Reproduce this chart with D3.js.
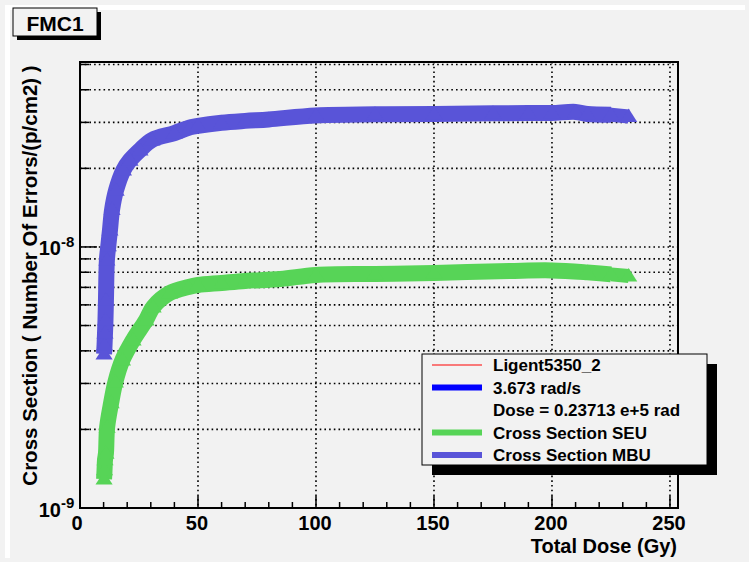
<!DOCTYPE html>
<html><head><meta charset="utf-8">
<script src="https://cdn.jsdelivr.net/npm/d3@7"></script>
<style>
body{margin:0;background:#f2f2f2;}
svg text{font-family:"Liberation Sans",Arial,Helvetica,sans-serif;font-weight:bold;fill:#000;}
</style>
</head><body>
<svg id="c" width="749" height="562"></svg>
<script>
// ---- data ----
const mbuDose   = [10.2,10.4,10.6,10.8,11.0,11.4,12.0,12.7,13.6,15.3,18.4,21.2,25.4,30.5,40,46.6,50,60,70,80,100,125,150,175,190,200,210,215,225,232.5];
const mbuValues = [3.89e-9,4.21e-9,4.68e-9,5.25e-9,6.26e-9,8.92e-9,1.01e-8,1.16e-8,1.39e-8,1.65e-8,1.97e-8,2.15e-8,2.35e-8,2.57e-8,2.73e-8,2.87e-8,2.91e-8,2.99e-8,3.04e-8,3.08e-8,3.19e-8,3.22e-8,3.23e-8,3.25e-8,3.26e-8,3.26e-8,3.29e-8,3.23e-8,3.21e-8,3.16e-8];
const seuDose   = [10.2,10.4,10.6,11.0,11.5,13.2,15,18,22.5,28,31,38,46,50,60,70,85,100,125,150,182,200,215,225,232.5];
const seuValues = [1.29e-9,1.40e-9,1.53e-9,1.62e-9,2.04e-9,2.53e-9,3.04e-9,3.69e-9,4.40e-9,5.25e-9,5.89e-9,6.66e-9,7.03e-9,7.15e-9,7.28e-9,7.41e-9,7.54e-9,7.81e-9,7.88e-9,7.95e-9,8.09e-9,8.13e-9,7.99e-9,7.85e-9,7.74e-9];
const xMajorTicks = [0,50,100,150,200,250];
const yLabelExps  = [-9,-8];
const legendLabels = ["Ligent5350_2","3.673 rad/s","Dose = 0.23713 e+5 rad","Cross Section SEU","Cross Section MBU"];
const legendColors = ["#ff0000","#0000ff",null,"#57d457","#5954d8"];
const legendWidths = [1,6,0,6,6];
const titleText = "FMC1";
const xTitle = "Total Dose (Gy)";
const yTitle = "Cross Section ( Number Of Errors/(p/cm2) )";

// ---- layout ----
const svg = d3.select("#c");
const L=80, R=678, T=62, B=508;
const x = d3.scaleLinear().domain([0,253.4]).range([L,R]);
const y = d3.scaleLog().domain([1e-9,5.11e-8]).range([B,T]);
const colSEU = "#57d457", colMBU = "#5954d8";

svg.append("rect").attr("width",749).attr("height",562).attr("fill","#f2f2f2");
// canvas bevel
svg.append("rect").attr("x",5).attr("y",5).attr("width",740).attr("height",5).attr("fill","#ffffff");
svg.append("rect").attr("x",5).attr("y",5).attr("width",5).attr("height",553).attr("fill","#ffffff");

// grid
const dotted = "1.6 3.1";
const yGrid = y.ticks().filter(v => v > 1.0001e-9 && v < 5.11e-8);
svg.append("g").selectAll("line").data(yGrid).join("line")
  .attr("x1",L).attr("x2",R).attr("y1",d=>y(d)).attr("y2",d=>y(d))
  .attr("stroke","#000").attr("stroke-width",1.6).attr("stroke-dasharray",dotted);
svg.append("g").selectAll("line").data(xMajorTicks.filter(d=>d>0)).join("line")
  .attr("x1",d=>x(d)).attr("x2",d=>x(d)).attr("y1",T).attr("y2",B)
  .attr("stroke","#000").attr("stroke-width",1.6).attr("stroke-dasharray",dotted);

// curves: thick band + triangle markers
const tri = d3.symbol().type(d3.symbolTriangle).size(105);
function drawSeries(dose, vals, col){
  const pts = dose.map((d,i)=>[d,vals[i]]);
  const line = d3.line().x(d=>x(d[0])).y(d=>y(d[1])).curve(d3.curveCatmullRom.alpha(0.5));
  svg.append("path").datum(pts.slice(0,-1)).attr("d",line).attr("fill","none")
    .attr("stroke",col).attr("stroke-width",16).attr("stroke-linejoin","round");
  svg.append("path").datum(pts.slice(-2)).attr("d",line).attr("fill","none")
    .attr("stroke",col).attr("stroke-width",14);
  svg.append("g").selectAll("path").data(pts).join("path")
    .attr("d",tri).attr("transform",d=>`translate(${x(d[0])},${y(d[1])+1}) scale(1.1,1)`)
    .attr("fill",col);
}
drawSeries(seuDose, seuValues, colSEU);
drawSeries(mbuDose, mbuValues, colMBU);

// frame
svg.append("rect").attr("x",L).attr("y",T).attr("width",R-L).attr("height",B-T)
  .attr("fill","none").attr("stroke","#000").attr("stroke-width",2);

// y ticks (left)
const yAll = y.ticks().filter(v => v >= 0.999e-9 && v < 5.11e-8);
svg.append("g").selectAll("line").data(yAll).join("line")
  .attr("x1",L).attr("x2",d=>{const e=Math.log10(d); return L + (Math.abs(e-Math.round(e))<1e-6 ? 17 : 9);})
  .attr("y1",d=>y(d)).attr("y2",d=>y(d)).attr("stroke","#000").attr("stroke-width",1.5);
// x ticks (bottom)
const xMinor = d3.range(0,251,10);
svg.append("g").selectAll("line").data(xMinor).join("line")
  .attr("x1",d=>x(d)).attr("x2",d=>x(d)).attr("y1",B)
  .attr("y2",d=> B - (d%50===0 ? 12 : 6)).attr("stroke","#000").attr("stroke-width",1.5);

// x tick labels
svg.append("g").selectAll("text").data(xMajorTicks).join("text")
  .attr("x",d=>x(d)-(d===0?3:1)).attr("y",530).attr("text-anchor","middle")
  .style("font-size","20px").text(d=>d);
// y tick labels
const yl = svg.append("g").selectAll("g").data(yLabelExps).join("g");
yl.append("text").attr("x",61).attr("y",d=>y(Math.pow(10,d))+8.5).attr("text-anchor","end")
  .style("font-size","20px").text("10");
yl.append("text").attr("x",61).attr("y",d=>y(Math.pow(10,d))).attr("text-anchor","start")
  .style("font-size","15px").text(d=>"-"+Math.abs(d));

// axis titles
svg.append("text").attr("x",677).attr("y",553).attr("text-anchor","end")
  .style("font-size","20px").text(xTitle);
svg.append("text").attr("transform","translate(37,275.5) rotate(-90)").attr("text-anchor","middle")
  .style("font-size","20.5px").text(yTitle);

// title box
svg.append("rect").attr("x",17).attr("y",12).attr("width",84).attr("height",28).attr("fill","#000");
svg.append("rect").attr("x",13).attr("y",8).attr("width",84).attr("height",28).attr("fill","#f2f2f2").attr("stroke","#000").attr("stroke-width",1);
svg.append("text").attr("x",55).attr("y",31).attr("text-anchor","middle").style("font-size","21px").text(titleText);

// legend
const lgX=422, lgY=354, lgW=285, lgH=111;
svg.append("rect").attr("x",lgX+10).attr("y",lgY+10).attr("width",lgW).attr("height",lgH).attr("fill","#000");
svg.append("rect").attr("x",lgX).attr("y",lgY).attr("width",lgW).attr("height",lgH).attr("fill","#f2f2f2").attr("stroke","#000").attr("stroke-width",1);
const legendRows = legendLabels.map((t,i)=>({text:t,color:legendColors[i],width:legendWidths[i],ry:365+i*22.5}));
const lg = svg.append("g").selectAll("g").data(legendRows).join("g");
lg.filter(d=>d.color).append("line")
  .attr("x1",432).attr("x2",482).attr("y1",d=>d.ry).attr("y2",d=>d.ry)
  .attr("stroke",d=>d.color).attr("stroke-width",d=>d.width);
lg.append("text").attr("x",493).attr("y",d=>d.ry+6).style("font-size","17px").text(d=>d.text);
</script>
</body></html>
